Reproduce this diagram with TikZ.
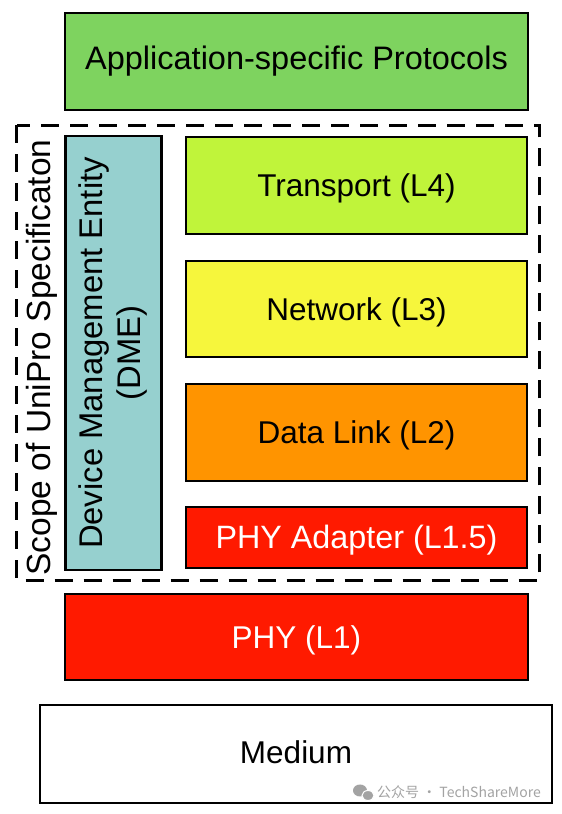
\documentclass[tikz,border=0pt]{standalone}
\usepackage{fontspec}
\setmainfont{Liberation Sans}
\newfontfamily\cjkfont{Noto Sans CJK SC}
\definecolor{appgreen}{HTML}{7ED35F}
\definecolor{translime}{HTML}{C0F43A}
\definecolor{netyellow}{HTML}{F6F63C}
\definecolor{dlorange}{HTML}{FF9400}
\definecolor{phyred}{HTML}{FF1A00}
\definecolor{dmeteal}{HTML}{96D0CF}
\definecolor{wmgray}{HTML}{A3A3A3}
\tikzset{
  layer/.style={draw=black, line width=2.6pt, inner sep=0pt, outer sep=0pt,
    font=\fontsize{31.5}{36}\selectfont, text=black},
  captext/.style={text height=22.6pt, text depth=0pt},
  whitetext/.style={text=white},
  scopebox/.style={draw=black, line width=2.8pt, dash pattern=on 18pt off 11pt},
}
\begin{document}
\begin{tikzpicture}[x=1pt,y=1pt]
\useasboundingbox (0,0) rectangle (562,814);
\fill[white] (0,0) rectangle (562,814);

\node[layer, fill=appgreen, minimum width=463pt, minimum height=97pt,
  font=\fontsize{32.5}{36}\selectfont] (app) at (296.5,752.5) {};
\node[captext, inner sep=0pt, font=\fontsize{32.5}{36}\selectfont] (apptext) at (296.5,755.5) {Application-specific Protocols};

\coordinate (scopeNW) at (16.5,688.5);
\coordinate (scopeSE) at (539.5,233.5);
\draw[scopebox] (scopeNW) rectangle (scopeSE);

\node[rotate=90, anchor=base, font=\fontsize{33.5}{38}\selectfont] (scope) at (50,456.5) {Scope of UniPro Specificaton};

\node[layer, fill=dmeteal, rotate=90, minimum width=434pt, minimum height=96pt, align=center,
  font=\fontsize{32.8}{38}\selectfont] (dme) at (113.5,461) {Device Management Entity\\(DME)};

\node[layer, captext, fill=translime, minimum width=341pt, minimum height=97pt] (trans) at (356.5,628.5) {Transport (L4)};
\node[layer, captext, fill=netyellow, minimum width=341pt, minimum height=96pt] (net) at (356.5,505) {Network (L3)};
\node[layer, captext, fill=dlorange, minimum width=341pt, minimum height=97pt] (dl) at (356.5,381.5) {Data Link (L2)};
\node[layer, captext, whitetext, fill=phyred, minimum width=341pt, minimum height=61pt,
  font=\fontsize{32.3}{36}\selectfont] (pa) at (356.5,276.5) {PHY Adapter (L1.5)};

\node[layer, captext, whitetext, fill=phyred, minimum width=463pt, minimum height=86pt] (phy) at (296.5,177) {PHY (L1)};
\node[layer, fill=white, minimum width=512pt, minimum height=98pt] (med) at (296,60) {};
\node[captext, inner sep=0pt, font=\fontsize{31.5}{36}\selectfont] (medtext) at (296,62) {Medium};

% watermark
\fill[wmgray] (360,23.5) ellipse (7pt and 6pt);
\fill[wmgray, draw=white, line width=1pt] (368,18.5) ellipse (6pt and 5pt);
\node[anchor=west, inner sep=0pt, text=wmgray, font=\cjkfont\fontsize{14}{16}\selectfont] (wm) at (377,22) {公众号 · TechShareMore};
\end{tikzpicture}
\end{document}
